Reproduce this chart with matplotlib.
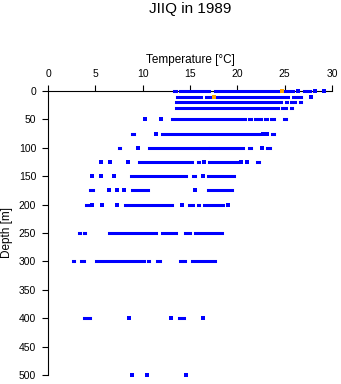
import matplotlib
matplotlib.use("Agg")
import matplotlib.pyplot as plt

plt.rcParams['font.family'] = ['Liberation Sans', 'DejaVu Sans']

# observed temperature ranges (lo, hi) per depth level, degC; lo == hi is a single reading
seg_0 = [(13.35, 13.55), (13.95, 17.05), (17.65, 24.4), (24.95, 25.85), (26.4, 26.4),
         (27.05, 27.65), (28.2, 28.2), (29.2, 29.2)]
seg_10 = [(13.65, 16.15), (16.65, 17.35), (17.85, 25.35), (25.85, 26.75), (27.8, 27.8)]
seg_20 = [(13.55, 24.65), (25.1, 25.2), (25.65, 26.05), (26.6, 26.7)]
seg_30 = [(13.55, 24.25), (24.75, 25.15), (25.7, 25.8)]
seg_50 = [(10.2, 10.2), (11.9, 11.9), (13.05, 20.8), (21.25, 21.45), (21.85, 22.55),
          (22.95, 23.15), (23.55, 23.85), (24.95, 25.15)]
seg_75 = [(8.85, 9.05), (11.4, 11.4), (12.05, 22.25), (22.75, 22.75), (23.1, 23.1),
          (23.65, 23.85)]
seg_100 = [(7.45, 7.65), (9.5, 9.5), (10.65, 16.85), (17.15, 20.65), (21.25, 21.45),
           (22.6, 22.6), (23.15, 23.45)]
seg_125 = [(5.6, 5.6), (6.6, 6.6), (8.5, 8.5), (9.65, 15.25), (15.85, 15.95), (16.5, 16.5),
           (17.05, 20.05), (20.4, 20.4), (21.0, 21.0), (22.05, 22.25)]
seg_150 = [(4.7, 4.7), (5.6, 5.6), (7.0, 7.0), (8.75, 14.6), (15.35, 15.55), (16.35, 16.35),
           (16.95, 19.65)]
seg_175 = [(4.45, 4.8), (6.4, 6.4), (7.3, 7.3), (8.0, 8.0), (8.85, 10.6), (15.5, 15.5),
           (16.85, 19.45)]
seg_200 = [(4.05, 4.3), (4.7, 4.7), (5.7, 5.7), (7.3, 7.3), (8.15, 13.15), (14.2, 14.2),
           (14.85, 15.35), (15.85, 15.95), (16.45, 18.45), (19.05, 19.05)]
seg_250 = [(3.3, 3.4), (3.85, 3.95), (6.45, 11.45), (12.05, 13.55), (14.45, 15.0),
           (15.55, 18.4)]
seg_300 = [(2.65, 2.75), (3.45, 3.75), (5.05, 10.15), (10.55, 10.65), (11.5, 11.85),
           (13.9, 14.0), (14.4, 14.45), (15.25, 17.65)]
seg_400 = [(3.75, 4.45), (8.6, 8.6), (13.0, 13.0), (13.85, 14.35), (16.4, 16.4)]
seg_500 = [(8.9, 8.9), (10.5, 10.5), (14.6, 14.6)]

depths = [0, 10, 20, 30, 50, 75, 100, 125, 150, 175, 200, 250, 300, 400, 500]
segments = [seg_0, seg_10, seg_20, seg_30, seg_50, seg_75, seg_100, seg_125, seg_150,
            seg_175, seg_200, seg_250, seg_300, seg_400, seg_500]

# flagged values (drawn orange)
flag_temp = [24.7, 17.55]
flag_depth = [0, 10]

xticks = [0, 5, 10, 15, 20, 25, 30]
yticks = [0, 50, 100, 150, 200, 250, 300, 350, 400, 450, 500]

BLUE = '#0000ff'
ORANGE = '#ffa500'

fig = plt.figure(figsize=(3.41, 3.84), dpi=100)
ax = fig.add_axes([48 / 341, 1 - 375 / 384, 284 / 341, 284 / 384])

for d, segs in zip(depths, segments):
    runs = [s for s in segs if s[1] > s[0]]
    pts = [s[0] for s in segs if s[1] == s[0]]
    if runs:
        ax.hlines([d] * len(runs), [s[0] for s in runs], [s[1] for s in runs],
                  colors=BLUE, linewidth=2.2, capstyle='projecting', clip_on=False, zorder=3)
    if pts:
        ax.plot(pts, [d] * len(pts), 's', color=BLUE, markersize=2.4, markeredgewidth=0,
                clip_on=False, zorder=3)

ax.plot(flag_temp, flag_depth, 's', color=ORANGE, markersize=2.6, markeredgewidth=0,
        clip_on=False, zorder=4)

ax.set_xlim(0, 30)
ax.set_ylim(500, 0)
ax.set_xticks(xticks)
ax.set_yticks(yticks)
ax.xaxis.tick_top()
ax.xaxis.set_label_position('top')

for side in ['right', 'bottom']:
    ax.spines[side].set_visible(False)
for side in ['top', 'left']:
    ax.spines[side].set_linewidth(0.8)

ax.tick_params(axis='x', direction='out', length=4.5, width=0.8, pad=4.2, labelsize=7.5)
ax.tick_params(axis='y', direction='out', length=4.5, width=0.8, pad=4.0, labelsize=7.5)

ax.set_xlabel('Temperature [°C]', fontsize=8.5)
ax.xaxis.set_label_coords(0.5, 1 + 31 / 284)
ax.xaxis.label.set_va('center')
ax.set_ylabel('Depth [m]', fontsize=8.5)
ax.yaxis.set_label_coords(-41 / 284, 0.5)
ax.yaxis.label.set_va('center')

fig.text(190 / 341, 1 - 9.5 / 384, 'JIIQ in 1989', ha='center', va='center', fontsize=11)

fig.savefig('out.png', dpi=100)
